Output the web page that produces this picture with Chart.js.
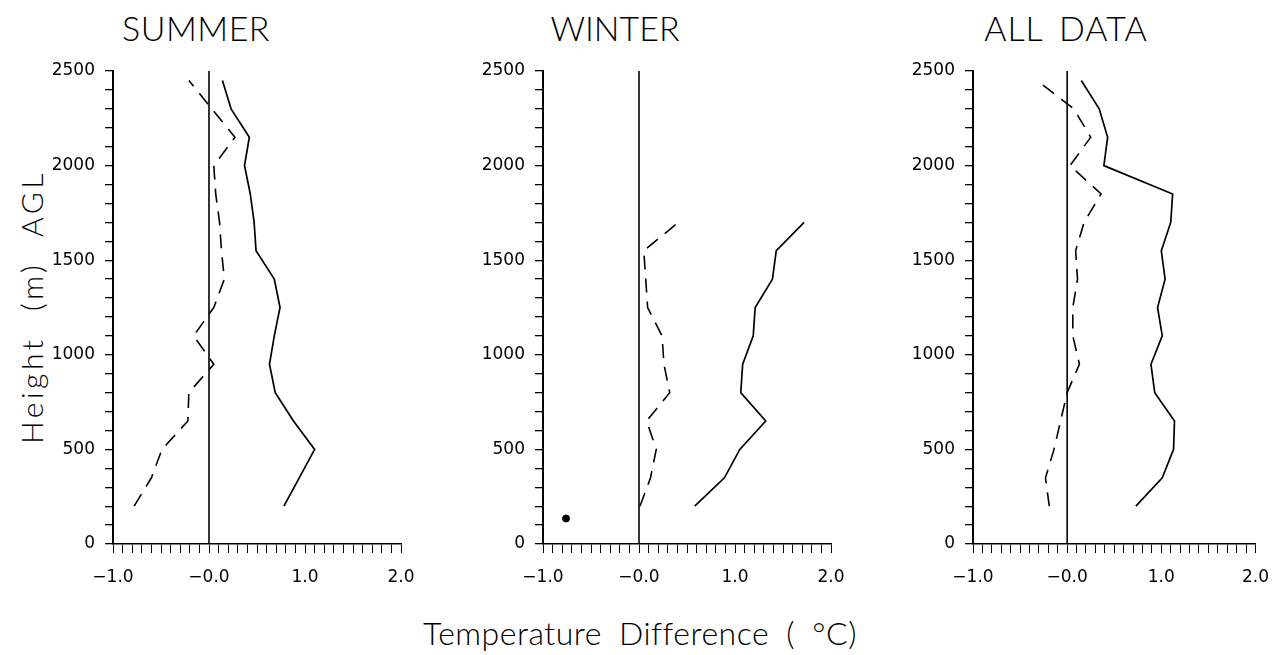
<!DOCTYPE html>
<html><head><meta charset="utf-8">
<script src="https://cdn.jsdelivr.net/npm/chart.js@4.4.0/dist/chart.umd.min.js"></script>
<style>
html,body{margin:0;padding:0;background:#fff;width:1283px;height:655px;overflow:hidden;position:relative;}
canvas{position:absolute;top:0;}
.t{position:absolute;font-family:Lato,'DejaVu Sans',sans-serif;font-weight:300;color:#000;white-space:nowrap;line-height:1;transform:translate(-50%,-50%);}
.yt{position:absolute;font-family:Lato,'DejaVu Sans',sans-serif;font-weight:300;color:#000;white-space:nowrap;line-height:1;transform:translate(-50%,-50%) rotate(-90deg);}
</style></head><body>
<div class="t" style="left:196px;top:28px;font-size:34px;letter-spacing:0.5px">SUMMER</div>
<div class="t" style="left:615px;top:28px;font-size:34px">WINTER</div>
<div class="t" style="left:1066px;top:28px;font-size:34px;letter-spacing:1px;word-spacing:6px">ALL DATA</div>
<div class="yt" style="left:31px;top:307px;font-size:30px;letter-spacing:3.5px;word-spacing:14px">Height (m) AGL</div>
<div class="t" style="left:640px;top:633px;font-size:32px;letter-spacing:0.5px;word-spacing:8px">Temperature Difference ( °C)</div>
<canvas id="c1" width="431" height="600" style="left:0px"></canvas>
<canvas id="c2" width="431" height="600" style="left:430px"></canvas>
<canvas id="c3" width="423" height="600" style="left:860px"></canvas>
<script>
// Heights (m AGL) of profile levels
const heightsSummer = [200,350,500,650,800,950,1100,1250,1400,1550,1700,1850,2000,2150,2300,2450];
const heightsWinter = [200,350,500,650,800,950,1100,1250,1400,1550,1700];
const heightsAll    = [200,350,500,650,800,950,1100,1250,1400,1550,1700,1850,2000,2150,2300,2450];

// Temperature differences (°C)
const summerSolid  = [0.78,0.94,1.10,0.88,0.69,0.63,0.68,0.74,0.68,0.49,0.47,0.43,0.37,0.42,0.23,0.14];
const summerDashed = [-0.78,-0.60,-0.49,-0.22,-0.21,0.05,-0.16,0.05,0.16,0.13,0.11,0.07,0.05,0.27,0.03,-0.21];
const winterSolid  = [0.58,0.89,1.05,1.32,1.06,1.08,1.19,1.21,1.39,1.43,1.72];
const winterDashed = [0.01,0.12,0.18,0.08,0.32,0.26,0.24,0.09,0.07,0.05,0.41];
const winterDot    = [{x:-0.76, y:135}];
const allSolid     = [0.73,1.01,1.13,1.14,0.93,0.89,1.01,0.96,1.04,1.00,1.10,1.12,0.39,0.43,0.34,0.15];
const allDashed    = [-0.19,-0.23,-0.14,-0.07,0.00,0.13,0.06,0.06,0.11,0.09,0.18,0.36,0.03,0.25,0.07,-0.32];

// Axis settings
const xMin = -1, xMax = 2, xStep = 0.1;
const yMin = 0, yMax = 2500, yStep = 100, yLabelStep = 500;

const TICK_FONT = {family:"'DejaVu Sans', sans-serif", size:17};

function pts(xs, hs){ return xs.map((v,i)=>({x:v, y:hs[i]})); }
function xLabel(v){
  const r = Math.round(v*10);
  if (r % 10 !== 0) return '';
  if (r === 0) return '\u22120.0';
  return (r<0?'\u2212':'') + Math.abs(r/10).toFixed(1);
}
function yLabel(v){
  return (Math.round(v) % yLabelStep === 0) ? String(Math.round(v)) : '';
}

function makeChart(id, padRight, datasets){
  const base = [{data:[{x:0,y:yMin},{x:0,y:yMax}], borderColor:'#000', borderWidth:1.6, showLine:true, pointRadius:0}];
  return new Chart(document.getElementById(id), {
    type:'scatter',
    data:{datasets: base.concat(datasets)},
    options:{
      responsive:false, animation:false, devicePixelRatio:1,
      layout:{padding:{left:0,right:padRight,top:71,bottom:0}},
      plugins:{legend:{display:false}, tooltip:{enabled:false}, title:{display:false}},
      scales:{
        x:{type:'linear', min:xMin, max:xMax,
           afterFit:(s)=>{s.height=56;},
           ticks:{stepSize:xStep, autoSkip:false, maxRotation:0, minRotation:0, padding:14, color:'#000', font:TICK_FONT, callback:xLabel},
           grid:{drawOnChartArea:false, drawTicks:true, tickLength:9, color:'#000', lineWidth:1},
           border:{display:true, color:'#000', width:1.6}},
        y:{type:'linear', min:yMin, max:yMax,
           afterFit:(s)=>{s.width=113;},
           ticks:{stepSize:yStep, autoSkip:false, padding:10, color:'#000', font:TICK_FONT, callback:yLabel},
           grid:{drawOnChartArea:false, drawTicks:true, tickLength:8, color:'#000', lineWidth:1.3},
           border:{display:true, color:'#000', width:2}}
      }
    }
  });
}
function solid(xs,hs){ return {data:pts(xs,hs), showLine:true, borderColor:'#000', borderWidth:1.7, pointRadius:0, tension:0}; }
function dashed(xs,hs){ return {data:pts(xs,hs), showLine:true, borderColor:'#000', borderWidth:1.6, borderDash:[14,9], pointRadius:0, tension:0}; }

makeChart('c1', 30, [solid(summerSolid, heightsSummer), dashed(summerDashed, heightsSummer)]);
makeChart('c2', 30, [solid(winterSolid, heightsWinter), dashed(winterDashed, heightsWinter),
  {data:winterDot, showLine:false, pointRadius:3.5, pointBackgroundColor:'#000', pointBorderColor:'#000', pointStyle:'circle'}]);
makeChart('c3', 21, [solid(allSolid, heightsAll), dashed(allDashed, heightsAll)]);
</script>
</body></html>
